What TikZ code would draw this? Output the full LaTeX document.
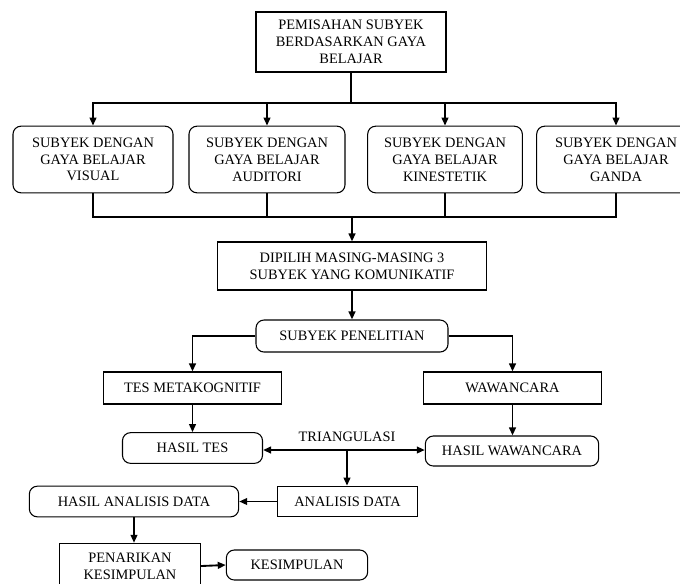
\documentclass[tikz,border=0pt]{standalone}
\usepackage{fontspec}
\setmainfont{Liberation Serif}
\usetikzlibrary{arrows.meta}

\begin{document}
\begin{tikzpicture}[x=0.75pt,y=0.75pt,yscale=-1,xscale=1,
  font=\fontsize{10.8}{12.6}\selectfont,
  box/.style={draw,line width=0.8pt,align=center,inner sep=0.75pt},
  rbox/.style={box,rounded corners=6pt},
  conn/.style={line width=1.4pt},
  arr/.style={conn,-{Triangle[length=6pt,width=5pt]}}]
\useasboundingbox (0,0) rectangle (680,583);

%Shape: Rectangle
\node[box,minimum width=142.5pt,minimum height=45pt] (pemisahan) at (351,42) {PEMISAHAN SUBYEK\\BERDASARKAN GAYA\\BELAJAR};

%Shape: Rounded Rect
\node[rbox,minimum width=120pt,minimum height=50pt] (visual) at (93,159.5) {SUBYEK DENGAN\\GAYA BELAJAR\\VISUAL};
\node[rbox,minimum width=117pt,minimum height=50pt] (auditori) at (267,159.5) {SUBYEK DENGAN\\GAYA BELAJAR\\AUDITORI};
\node[rbox,minimum width=116pt,minimum height=50pt] (kinestetik) at (445,159.5) {SUBYEK DENGAN\\GAYA BELAJAR\\KINESTETIK};
\node[rbox,minimum width=119pt,minimum height=50pt] (ganda) at (616,159.5) {SUBYEK DENGAN\\GAYA BELAJAR\\GANDA};

%Straight Lines
\coordinate (j1) at (351,103);
\draw[conn] (pemisahan.south) -- (j1);
\draw[arr] (j1) -| (visual.north);
\draw[arr] (j1) -| (ganda.north);
\draw[arr] (j1 -| auditori) -- (auditori.north);
\draw[arr] (j1 -| kinestetik) -- (kinestetik.north);

%Straight Lines
\coordinate (j2) at (352,217);
\draw[conn] (visual.south) |- (j2);
\draw[conn] (ganda.south) |- (j2);
\draw[conn] (auditori.south) -- (auditori.south |- j2);
\draw[conn] (kinestetik.south) -- (kinestetik.south |- j2);

%Shape: Rectangle
\node[box,minimum width=202pt,minimum height=36pt] (dipilih) at (352,266) {DIPILIH MASING-MASING 3\\SUBYEK YANG KOMUNIKATIF};
\draw[arr] (j2) -- (dipilih.north);

%Shape: Rounded Rect
\node[rbox,minimum width=144pt,minimum height=24pt] (penelitian) at (352,336) {SUBYEK PENELITIAN};
\draw[arr] (dipilih.south) -- (penelitian.north);

%Shape: Rectangle
\node[box,minimum width=134pt,minimum height=24pt] (tes) at (192.5,388) {TES METAKOGNITIF};
\node[box,minimum width=134pt,minimum height=24pt] (wawancara) at (512.5,388) {WAWANCARA};
\draw[arr] (penelitian.west) -| (tes.north);
\draw[arr] (penelitian.east) -| (wawancara.north);

%Shape: Rounded Rect
\node[rbox,minimum width=105pt,minimum height=23pt] (hasiltes) at (192.5,448) {HASIL TES};
\node[rbox,minimum width=130pt,minimum height=22.5pt] (hasilwawancara) at (512,451) {HASIL WAWANCARA};
\draw[arr] (tes.south) -- (tes.south |- hasiltes.north);
\draw[arr] (wawancara.south) -- (wawancara.south |- hasilwawancara.north);

% Text Node
\node[inner sep=0.75pt] (triangulasi) at (347,437) {TRIANGULASI};

%Straight Lines
\coordinate (j3) at (347,450);
\draw[conn,{Triangle[length=6pt,width=5pt]}-{Triangle[length=6pt,width=5pt]}] (j3 -| hasiltes.east) -- (j3 -| hasilwawancara.west);

%Shape: Rectangle
\node[box,minimum width=105pt,minimum height=23pt] (analisis) at (347.5,501.5) {ANALISIS DATA};
\draw[arr] (j3) -- (j3 |- analisis.north);

%Shape: Rounded Rect
\node[rbox,minimum width=157pt,minimum height=23pt] (hasilanalisis) at (134,501.5) {HASIL ANALISIS DATA};
\draw[arr] (analisis.west) -- (hasilanalisis.east);

%Shape: Rectangle
\node[box,minimum width=106pt,minimum height=34pt] (penarikan) at (130,566) {PENARIKAN\\KESIMPULAN};
\draw[arr] (hasilanalisis.south) -- (hasilanalisis.south |- penarikan.north);

%Shape: Rounded Rect
\node[rbox,minimum width=106pt,minimum height=22.5pt] (kesimpulan) at (297,565) {KESIMPULAN};
\draw[arr] (penarikan.east) -- (kesimpulan.west);

\end{tikzpicture}
\end{document}
